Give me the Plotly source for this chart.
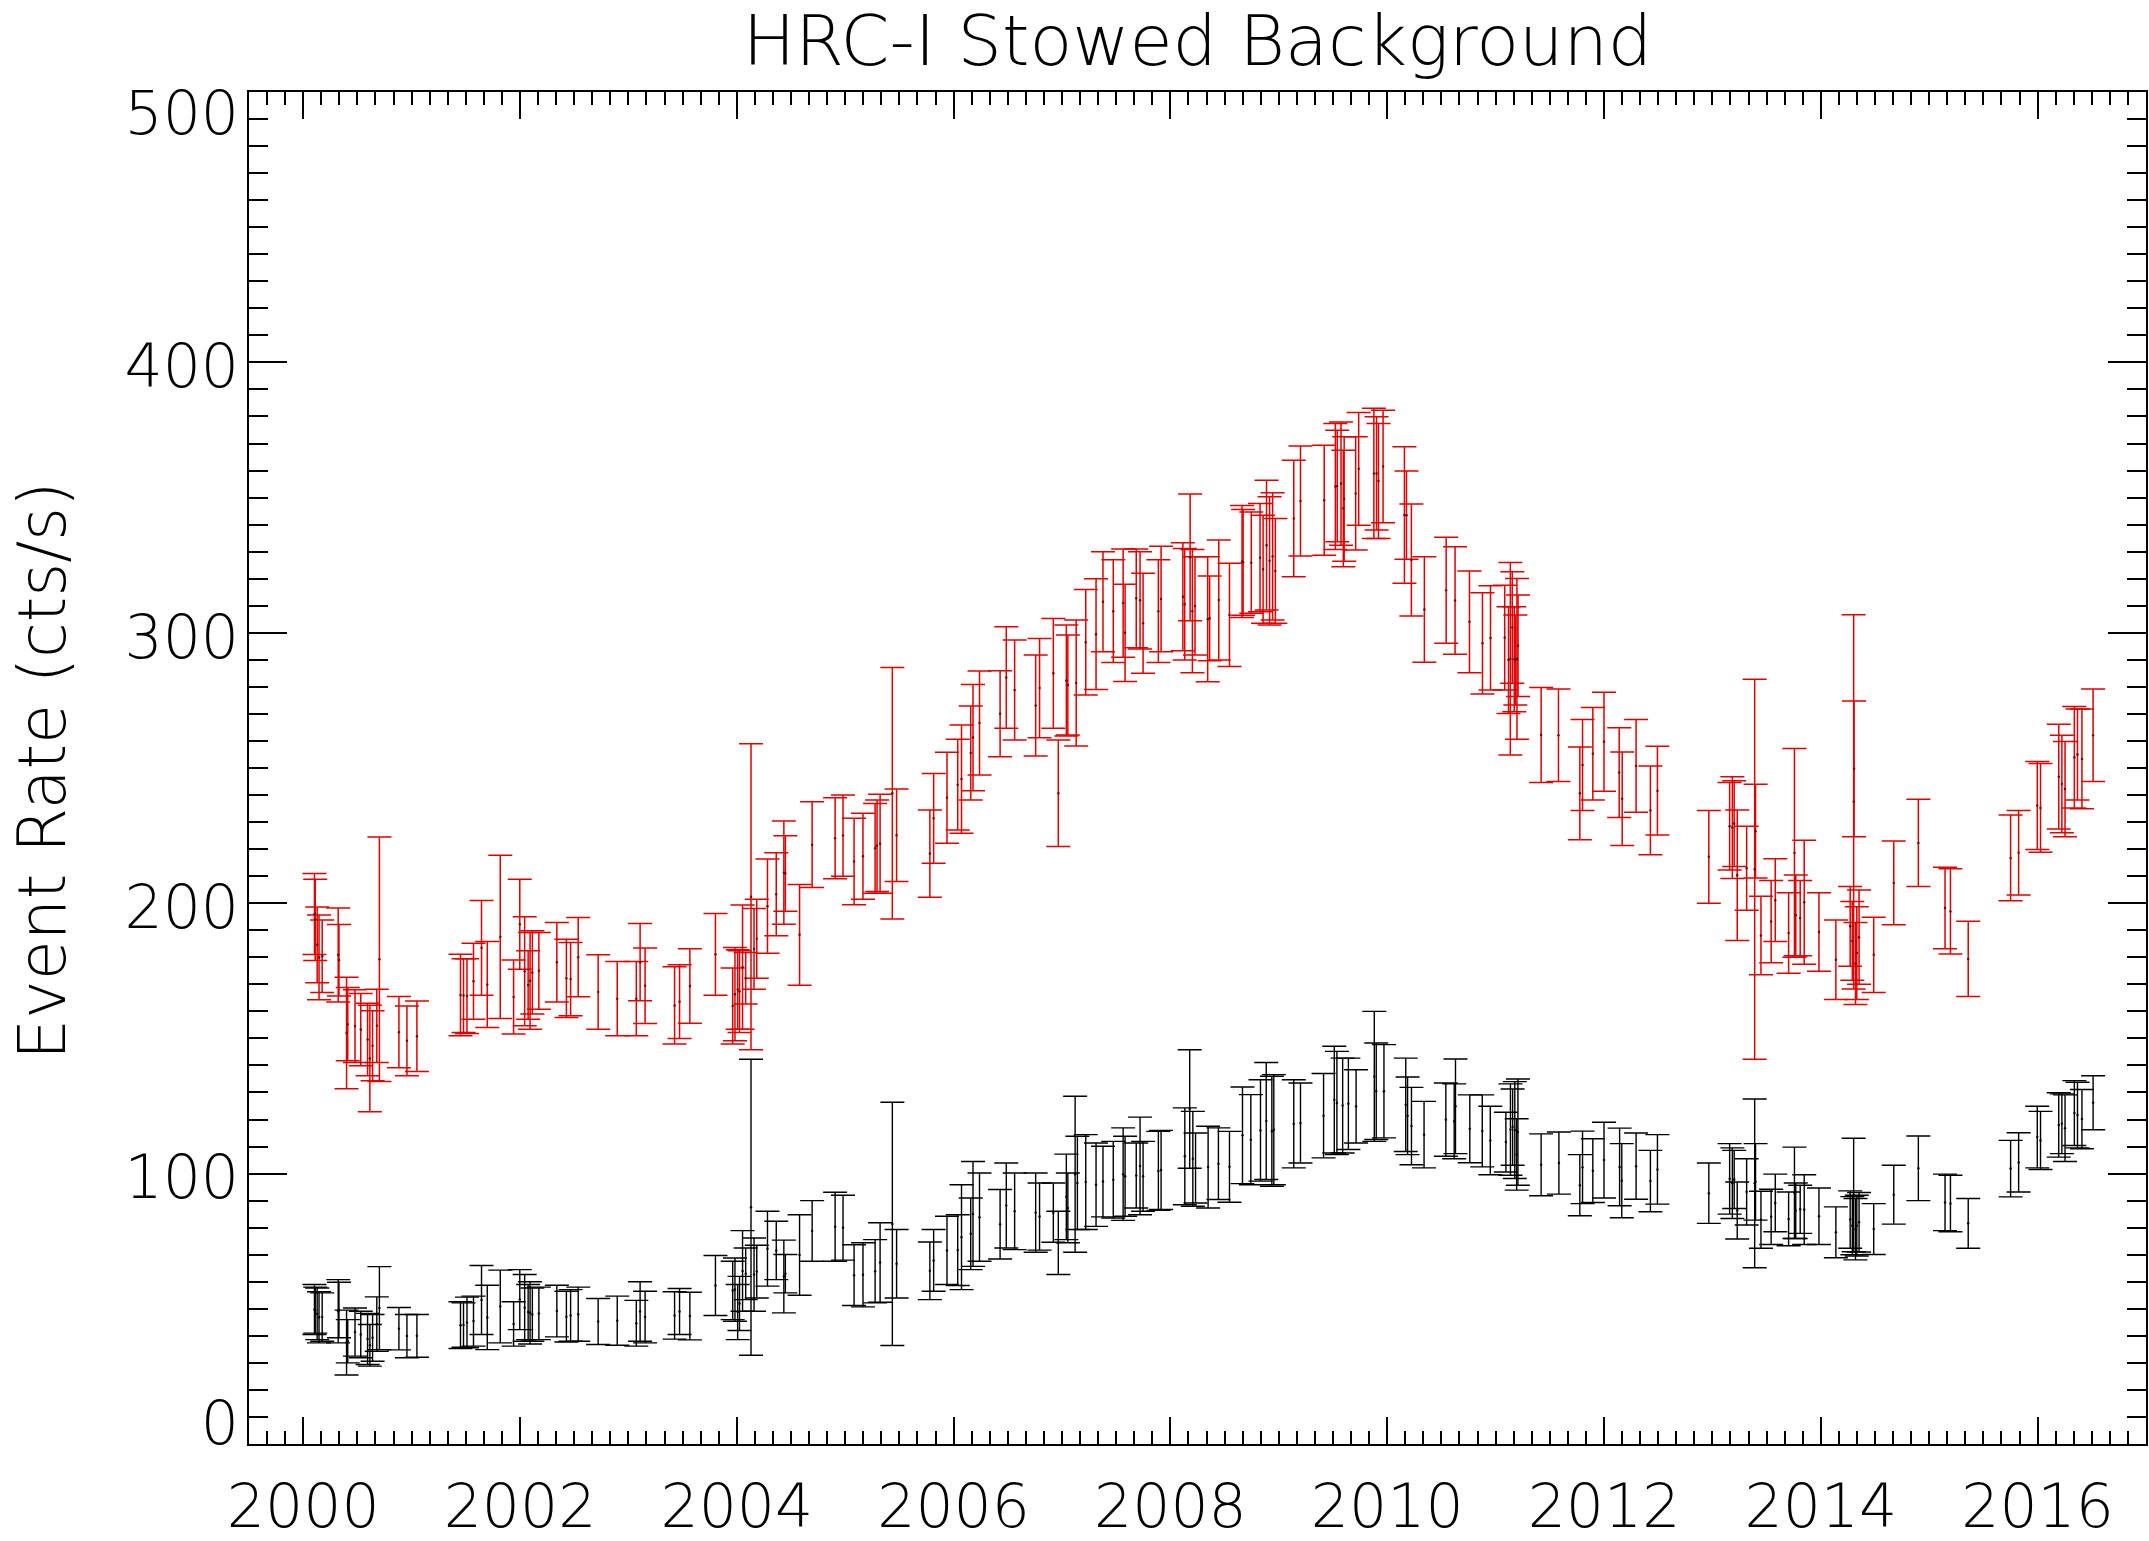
import plotly.graph_objects as go

# ---------------- data ----------------
# upper (red) series: epoch (decimal year), upper and lower end of the error bar (cts/s)
year_red = [
    2000.104, 2000.111, 2000.129, 2000.146, 2000.175, 2000.323, 2000.330, 2000.400, 2000.411, 2000.478,
    2000.531, 2000.594, 2000.615, 2000.640, 2000.679, 2000.703, 2000.883, 2000.957, 2001.049, 2001.451,
    2001.479, 2001.511, 2001.571, 2001.645, 2001.698, 2001.818, 2001.941, 2001.998, 2002.043, 2002.075,
    2002.093, 2002.114, 2002.174, 2002.340, 2002.428, 2002.467, 2002.537, 2002.721, 2002.897, 2003.073,
    2003.108, 2003.154, 2003.426, 2003.472, 2003.567, 2003.803, 2003.962, 2003.983, 2004.008, 2004.025,
    2004.053, 2004.082, 2004.131, 2004.159, 2004.184, 2004.283, 2004.364, 2004.434, 2004.448, 2004.579,
    2004.695, 2004.907, 2004.980, 2005.082, 2005.164, 2005.276, 2005.294, 2005.322, 2005.435, 2005.474,
    2005.781, 2005.816, 2005.939, 2006.038, 2006.073, 2006.158, 2006.179, 2006.239, 2006.429, 2006.486,
    2006.563, 2006.757, 2006.793, 2006.920, 2006.966, 2007.040, 2007.054, 2007.131, 2007.219, 2007.314,
    2007.378, 2007.473, 2007.564, 2007.582, 2007.685, 2007.720, 2007.748, 2007.889, 2007.914, 2008.115,
    2008.132, 2008.182, 2008.203, 2008.227, 2008.344, 2008.362, 2008.446, 2008.545, 2008.661, 2008.671,
    2008.746, 2008.827, 2008.855, 2008.887, 2008.915, 2008.943, 2008.968, 2009.138, 2009.200, 2009.419,
    2009.522, 2009.539, 2009.574, 2009.595, 2009.603, 2009.709, 2009.737, 2009.877, 2009.902, 2009.920,
    2009.962, 2010.159, 2010.178, 2010.223, 2010.343, 2010.544, 2010.626, 2010.759, 2010.879, 2010.953,
    2011.084, 2011.119, 2011.136, 2011.154, 2011.172, 2011.182, 2011.197, 2011.207, 2011.420, 2011.580,
    2011.777, 2011.802, 2011.897, 2012.000, 2012.140, 2012.168, 2012.296, 2012.428, 2012.493, 2012.967,
    2013.159, 2013.184, 2013.201, 2013.229, 2013.316, 2013.390, 2013.398, 2013.448, 2013.542, 2013.580,
    2013.703, 2013.757, 2013.769, 2013.810, 2013.847, 2013.983, 2014.139, 2014.271, 2014.291, 2014.303,
    2014.307, 2014.320, 2014.332, 2014.353, 2014.488, 2014.673, 2014.900, 2015.146, 2015.196, 2015.360,
    2015.751, 2015.825, 2015.997, 2016.027, 2016.195, 2016.224, 2016.253, 2016.339, 2016.368, 2016.409,
    2016.512,
]
red_hi = [
    211.0, 208.9, 198.6, 195.6, 193.8, 198.2, 192.1, 172.6, 168.8, 168.0,
    166.6, 163.0, 162.3, 160.2, 168.2, 224.5, 165.5, 162.0, 163.8, 181.1,
    179.5, 179.5, 185.2, 201.0, 185.8, 217.7, 179.0, 208.9, 195.0, 182.4,
    189.2, 189.8, 189.2, 192.9, 186.7, 185.5, 194.7, 180.9, 178.4, 178.4,
    192.5, 183.4, 176.5, 177.2, 183.2, 196.2, 176.0, 183.6, 182.8, 182.4,
    199.3, 181.8, 259.0, 198.0, 201.5, 216.3, 218.7, 230.4, 224.9, 206.9,
    237.5, 239.0, 240.0, 231.4, 233.3, 236.9, 238.2, 240.3, 287.2, 242.2,
    234.5, 248.0, 255.8, 260.6, 265.9, 272.9, 280.9, 285.9, 286.0, 302.2,
    297.3, 291.8, 297.9, 305.3, 260.4, 302.9, 299.2, 304.7, 316.0, 320.0,
    330.0, 327.0, 331.0, 318.0, 331.0, 330.0, 322.0, 327.0, 332.0, 333.3,
    331.2, 351.3, 330.8, 328.1, 328.1, 321.0, 334.3, 325.7, 347.1, 345.6,
    344.7, 347.8, 343.5, 356.4, 350.3, 351.8, 342.3, 363.8, 369.1, 369.4,
    377.4, 374.9, 378.0, 367.5, 372.5, 372.5, 381.5, 383.0, 379.9, 377.4,
    382.3, 368.8, 359.8, 347.6, 328.1, 335.3, 331.8, 322.9, 314.8, 317.4,
    317.6, 309.6, 326.0, 322.6, 309.6, 306.6, 320.1, 314.0, 279.8, 279.2,
    257.8, 267.9, 272.4, 278.0, 264.9, 255.9, 267.9, 250.7, 258.0, 234.3,
    244.6, 246.8, 245.3, 234.5, 228.5, 282.8, 244.0, 202.6, 208.4, 216.4,
    203.9, 257.2, 210.4, 208.4, 223.3, 203.9, 193.8, 206.2, 200.6, 306.7,
    274.8, 192.9, 198.7, 204.9, 194.8, 223.0, 238.4, 213.3, 212.7, 193.3,
    232.6, 234.3, 252.4, 251.7, 266.2, 262.1, 259.8, 272.7, 271.8, 271.8,
    279.2,
]
red_lo = [
    181.0, 178.8, 170.6, 164.3, 167.0, 163.5, 165.7, 131.4, 141.7, 141.1,
    139.9, 136.2, 122.9, 134.3, 141.1, 134.1, 139.1, 136.2, 137.8, 151.0,
    152.2, 151.8, 157.1, 166.0, 154.0, 157.4, 151.6, 175.6, 154.7, 157.1,
    153.4, 159.0, 160.8, 163.5, 157.7, 158.4, 165.4, 153.4, 151.0, 151.0,
    163.9, 155.5, 147.9, 150.0, 155.6, 166.0, 147.9, 149.1, 153.4, 152.2,
    153.4, 162.7, 145.8, 168.2, 172.2, 181.5, 188.0, 192.2, 197.0, 169.7,
    205.8, 209.0, 210.0, 199.4, 201.5, 203.7, 204.3, 203.7, 194.2, 208.0,
    202.2, 214.8, 222.2, 227.1, 225.9, 238.2, 241.6, 247.4, 254.2, 264.7,
    260.4, 254.4, 261.2, 264.7, 221.0, 261.8, 262.2, 258.1, 277.0, 279.0,
    293.0, 289.0, 291.0, 282.0, 294.5, 294.0, 285.0, 289.0, 293.0, 293.4,
    289.9, 304.5, 285.2, 291.8, 281.9, 289.7, 289.9, 287.5, 305.7, 306.5,
    307.2, 307.8, 303.5, 308.4, 302.9, 304.7, 303.5, 320.7, 328.4, 328.7,
    330.8, 333.7, 332.4, 324.4, 326.5, 330.6, 339.8, 334.9, 338.0, 334.9,
    340.7, 318.3, 327.2, 306.2, 289.1, 296.1, 292.1, 285.2, 277.4, 278.8,
    278.8, 270.2, 254.8, 281.3, 270.8, 273.3, 260.6, 276.4, 244.6, 245.0,
    223.5, 234.3, 238.2, 241.4, 231.7, 221.3, 233.6, 217.9, 225.2, 200.0,
    212.3, 209.1, 213.6, 186.2, 197.4, 142.3, 209.3, 173.5, 178.0, 185.8,
    174.1, 180.0, 180.6, 180.6, 177.4, 174.8, 164.4, 176.7, 171.5, 168.3,
    224.6, 162.5, 164.4, 170.0, 167.0, 192.0, 206.2, 183.2, 181.2, 165.5,
    200.9, 203.0, 219.9, 218.8, 227.4, 226.1, 224.6, 235.2, 238.2, 234.9,
    245.0,
]

# lower (black) series
year_blk = [
    2000.104, 2000.111, 2000.129, 2000.146, 2000.175, 2000.323, 2000.330, 2000.400, 2000.411, 2000.478,
    2000.531, 2000.594, 2000.615, 2000.640, 2000.679, 2000.703, 2000.883, 2000.957, 2001.049, 2001.451,
    2001.479, 2001.511, 2001.571, 2001.645, 2001.698, 2001.818, 2001.941, 2001.998, 2002.043, 2002.075,
    2002.093, 2002.114, 2002.174, 2002.340, 2002.428, 2002.467, 2002.537, 2002.721, 2002.897, 2003.073,
    2003.108, 2003.154, 2003.426, 2003.472, 2003.567, 2003.803, 2003.962, 2003.983, 2004.008, 2004.025,
    2004.053, 2004.082, 2004.131, 2004.159, 2004.184, 2004.283, 2004.364, 2004.434, 2004.448, 2004.579,
    2004.695, 2004.907, 2004.980, 2005.082, 2005.164, 2005.276, 2005.322, 2005.435, 2005.474, 2005.781,
    2005.816, 2005.939, 2006.038, 2006.073, 2006.158, 2006.179, 2006.239, 2006.429, 2006.486, 2006.563,
    2006.757, 2006.793, 2006.920, 2006.966, 2007.040, 2007.054, 2007.121, 2007.142, 2007.219, 2007.314,
    2007.378, 2007.473, 2007.564, 2007.582, 2007.685, 2007.720, 2007.748, 2007.889, 2007.914, 2008.133,
    2008.178, 2008.207, 2008.232, 2008.348, 2008.443, 2008.545, 2008.665, 2008.742, 2008.831, 2008.884,
    2008.936, 2008.954, 2009.138, 2009.200, 2009.413, 2009.512, 2009.536, 2009.589, 2009.642, 2009.713,
    2009.881, 2009.899, 2009.970, 2010.171, 2010.188, 2010.224, 2010.340, 2010.541, 2010.618, 2010.630,
    2010.762, 2010.877, 2010.951, 2011.095, 2011.137, 2011.157, 2011.177, 2011.194, 2011.206, 2011.420,
    2011.584, 2011.777, 2011.802, 2011.897, 2012.000, 2012.144, 2012.164, 2012.296, 2012.428, 2012.493,
    2012.967, 2013.159, 2013.184, 2013.201, 2013.229, 2013.316, 2013.390, 2013.398, 2013.448, 2013.542,
    2013.580, 2013.703, 2013.757, 2013.769, 2013.810, 2013.847, 2013.983, 2014.139, 2014.271, 2014.291,
    2014.303, 2014.320, 2014.332, 2014.353, 2014.488, 2014.673, 2014.900, 2015.146, 2015.196, 2015.360,
    2015.751, 2015.825, 2015.997, 2016.027, 2016.195, 2016.224, 2016.253, 2016.339, 2016.368, 2016.409,
    2016.512,
]
blk_hi = [
    59.0, 58.0, 57.7, 56.3, 55.9, 60.8, 59.8, 49.5, 46.0, 50.3,
    49.1, 48.3, 44.2, 47.9, 54.4, 65.6, 50.5, 47.9, 47.9, 52.6,
    52.2, 54.3, 54.7, 66.0, 58.7, 64.3, 52.6, 64.5, 62.7, 59.0,
    60.0, 57.7, 58.0, 58.7, 56.5, 57.1, 58.0, 53.8, 54.7, 53.1,
    60.0, 56.5, 56.3, 57.5, 56.1, 69.7, 67.6, 68.8, 59.0, 62.0,
    78.9, 72.5, 142.3, 76.2, 73.5, 86.1, 82.4, 75.4, 70.1, 84.8,
    90.0, 93.1, 92.0, 73.7, 74.4, 75.6, 81.8, 126.4, 79.3, 74.7,
    79.3, 84.2, 84.8, 95.9, 91.0, 104.5, 100.2, 94.1, 103.9, 100.2,
    100.2, 96.5, 96.5, 86.1, 107.2, 100.2, 128.6, 113.8, 114.4, 111.3,
    110.1, 111.9, 116.9, 113.8, 111.3, 120.9, 111.9, 115.6, 116.0, 124.3,
    145.8, 123.0, 115.0, 117.5, 116.9, 115.6, 132.0, 129.2, 134.7, 141.1,
    136.0, 136.6, 134.7, 133.5, 137.0, 147.1, 145.2, 142.7, 142.7, 138.4,
    160.0, 148.3, 147.7, 142.7, 135.7, 131.9, 126.7, 133.5, 133.2, 142.4,
    129.1, 129.1, 124.9, 122.7, 133.2, 131.3, 134.0, 120.3, 135.0, 114.7,
    115.4, 107.0, 115.7, 112.9, 119.0, 116.8, 111.1, 115.0, 108.6, 114.4,
    103.9, 111.1, 109.5, 108.6, 96.9, 105.5, 127.6, 111.1, 93.5, 94.2,
    99.8, 93.2, 109.8, 96.5, 95.7, 99.6, 94.7, 87.7, 93.6, 91.5,
    113.1, 90.8, 92.0, 93.0, 88.9, 103.1, 113.9, 99.8, 99.4, 90.8,
    112.3, 115.1, 124.9, 123.0, 129.9, 129.5, 129.1, 134.4, 133.8, 131.1,
    136.2,
]
blk_lo = [
    40.5, 41.0, 38.6, 37.4, 38.0, 37.4, 39.3, 25.5, 30.0, 32.5,
    31.9, 29.4, 28.8, 30.6, 34.3, 34.9, 34.8, 31.9, 32.1, 35.3,
    35.8, 35.6, 36.2, 40.5, 34.9, 37.4, 36.2, 42.3, 38.0, 38.6,
    37.0, 38.0, 38.6, 39.6, 37.7, 38.0, 38.0, 36.8, 36.5, 36.2,
    38.0, 37.4, 38.8, 40.5, 38.5, 47.5, 46.0, 45.4, 38.6, 42.0,
    49.1, 53.4, 32.8, 49.1, 54.0, 58.4, 60.8, 48.5, 55.9, 55.0,
    67.6, 67.6, 68.0, 51.2, 50.7, 52.2, 52.4, 36.4, 54.0, 53.4,
    56.5, 59.0, 58.6, 57.1, 64.5, 65.7, 67.6, 68.4, 72.5, 71.9,
    70.9, 71.7, 74.6, 62.7, 75.6, 74.4, 70.9, 79.3, 79.3, 80.5,
    84.0, 83.6, 82.7, 84.2, 87.3, 84.8, 86.1, 86.4, 86.7, 88.5,
    102.0, 87.9, 89.1, 87.3, 90.4, 89.4, 96.3, 95.9, 97.2, 97.8,
    95.3, 95.9, 102.1, 103.9, 105.8, 107.6, 107.0, 107.6, 108.9, 111.3,
    111.9, 112.6, 113.2, 108.2, 107.0, 103.3, 102.1, 106.4, 105.5, 107.4,
    104.0, 102.5, 99.6, 100.6, 99.4, 103.1, 98.2, 93.9, 95.7, 91.8,
    92.4, 84.4, 88.9, 89.3, 91.0, 88.1, 83.7, 90.5, 85.9, 88.7,
    81.6, 85.0, 83.4, 87.1, 75.8, 81.0, 65.2, 82.8, 72.4, 73.8,
    78.5, 73.3, 76.0, 76.0, 77.9, 73.8, 73.8, 68.9, 72.4, 70.0,
    71.1, 68.1, 69.5, 71.0, 70.1, 81.3, 90.0, 78.9, 78.5, 72.4,
    91.4, 93.2, 102.1, 101.5, 106.1, 107.4, 104.5, 110.4, 109.5, 109.2,
    116.2,
]

x_ticks = [2000, 2002, 2004, 2006, 2008, 2010, 2012, 2014, 2016]
y_ticks = [0, 100, 200, 300, 400, 500]
y_tick_labels = ["0", "100", "200", "300", "400", "500"]
# where each y label sits (IDL keeps the end labels inside the frame)
y_label_at = [7.9, 98.6, 198.6, 298.6, 398.6, 492.1]

# ---------------- figure ----------------
def mid(hi, lo):
    return [(h + l) / 2.0 for h, l in zip(hi, lo)]


def half(hi, lo):
    return [(h - l) / 2.0 for h, l in zip(hi, lo)]


FONT = "DejaVu Sans"
WEIGHT = 200
TICKFONT = dict(family=FONT, size=60, color="black", weight=WEIGHT)
fig = go.Figure()

fig.add_trace(go.Scatter(
    x=year_red, y=mid(red_hi, red_lo), mode="markers",
    marker=dict(size=2.5, color="rgba(90,0,0,0.9)"),
    error_y=dict(type="data", array=half(red_hi, red_lo), symmetric=True,
                 color="rgb(225,0,0)", thickness=1.5, width=12),
    showlegend=False, hoverinfo="skip",
))
fig.add_trace(go.Scatter(
    x=year_blk, y=mid(blk_hi, blk_lo), mode="markers", yaxis="y2",
    marker=dict(size=2.5, color="rgba(0,0,0,0.9)"),
    error_y=dict(type="data", array=half(blk_hi, blk_lo), symmetric=True,
                 color="black", thickness=1.4, width=12),
    showlegend=False, hoverinfo="skip",
))

axis_common = dict(
    showline=True, linecolor="black", linewidth=2, mirror="ticks",
    ticks="inside", tickcolor="black", tickwidth=1.5,
    showgrid=False, zeroline=False, automargin=False,
    tickfont=TICKFONT,
)

fig.update_layout(
    width=2149, height=1541,
    margin=dict(l=249, r=3, t=92, b=97, pad=0),
    paper_bgcolor="white", plot_bgcolor="white",
    title=dict(text="HRC-I Stowed Background", x=0.5, xref="paper", xanchor="center",
               y=1 - 40 / 1541, yref="container", yanchor="middle",
               font=dict(family=FONT, size=70, color="black", weight=WEIGHT)),
    xaxis=dict(range=[1999.5, 2017], tickmode="array", tickvals=x_ticks,
               ticktext=[str(v) for v in x_ticks], ticklen=27,
               ticklabelstandoff=9,
               minor=dict(dtick=1 / 6, tick0=2000, ticklen=13, ticks="inside",
                          tickcolor="black", tickwidth=1.5, showgrid=False),
               **axis_common),
    yaxis=dict(range=[0, 500], tickmode="array", tickvals=y_ticks,
               showticklabels=False, ticklen=38,
               minor=dict(dtick=10, tick0=0, ticklen=19, ticks="inside",
                          tickcolor="black", tickwidth=1.5, showgrid=False),
               **axis_common),
    yaxis2=dict(range=[0, 500], overlaying="y", anchor="x", side="left",
                tickmode="array", tickvals=y_label_at, ticktext=y_tick_labels,
                ticks="", showline=False, showgrid=False, zeroline=False,
                automargin=False, ticklabelstandoff=9, tickfont=TICKFONT),
    annotations=[dict(text="Event Rate (cts/s)", textangle=-90, xref="paper", yref="paper",
                      x=-0.1085, y=0.498, xanchor="center", yanchor="middle", showarrow=False,
                      font=dict(family=FONT, size=65, color="black", weight=WEIGHT))],
)

fig.write_html("out.html", config={"displayModeBar": False},
               post_script="document.body.style.margin='0';")
